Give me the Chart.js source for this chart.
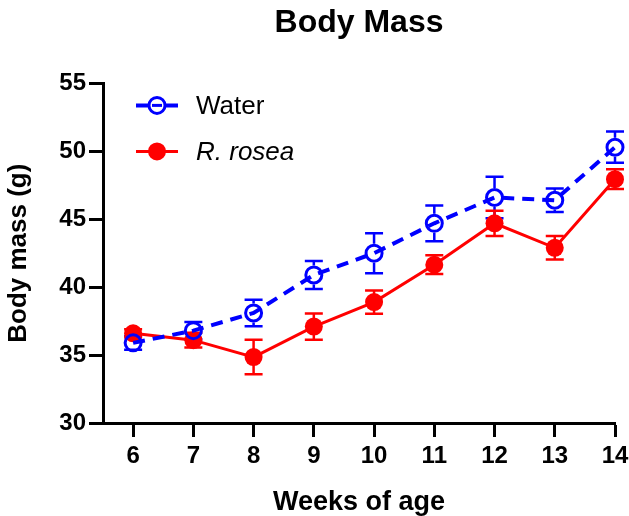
<!DOCTYPE html>
<html>
<head>
<meta charset="utf-8">
<script src="https://cdn.jsdelivr.net/npm/chart.js@4.4.0/dist/chart.umd.min.js"></script>
<style>
  body { margin: 0; background: #fff; }
  #wrap { width: 629px; height: 516px; }
</style>
</head>
<body>
<div id="wrap"><canvas id="mainChart" width="629" height="516"></canvas></div>
<script>
// --- data ---
const weeks = [6, 7, 8, 9, 10, 11, 12, 13, 14];
const waterMass = [35.9, 36.8, 38.1, 40.9, 42.5, 44.7, 46.6, 46.4, 50.3];
const waterErr = [0.5, 0.63, 0.97, 1.03, 1.47, 1.32, 1.52, 0.86, 1.15];
const roseaMass = [36.6, 36.1, 34.85, 37.1, 38.9, 41.65, 44.7, 42.9, 47.95];
const roseaErr = [0.3, 0.55, 1.27, 0.97, 0.85, 0.69, 0.93, 0.86, 0.73];
const yTicks = [30, 35, 40, 45, 50, 55];

const BLUE = '#0000ff';
const RED = '#ff0000';
const FONT = '"Liberation Sans", Arial, sans-serif';

// error bars, drawn under the markers
const errorBars = {
    id: 'errorBars',
    beforeDatasetsDraw(chart) {
        const ctx = chart.ctx;
        const xs = chart.scales.x, ys = chart.scales.y;
        chart.data.datasets.forEach((ds, di) => {
            const errs = ds.errors;
            ctx.save();
            ctx.strokeStyle = ds.borderColor;
            ctx.lineWidth = 2.5;
            ds.data.forEach((p, i) => {
                const x = xs.getPixelForValue(p.x);
                const yc = ys.getPixelForValue(p.y);
                const yt = ys.getPixelForValue(p.y + errs[i]);
                const yb = ys.getPixelForValue(p.y - errs[i]);
                const gap = ds.errGap;
                ctx.beginPath();
                if (yc - gap > yt) { ctx.moveTo(x, yc - gap); ctx.lineTo(x, yt); }
                if (yc + gap < yb) { ctx.moveTo(x, yc + gap); ctx.lineTo(x, yb); }
                ctx.moveTo(x - 9, yt); ctx.lineTo(x + 9, yt);
                ctx.moveTo(x - 9, yb); ctx.lineTo(x + 9, yb);
                ctx.stroke();
            });
            ctx.restore();
        });
    }
};

// legend inside the plot, top left
const plotLegend = {
    id: 'plotLegend',
    afterDraw(chart) {
        const ctx = chart.ctx;
        const a = chart.chartArea;
        const lx = a.left + 33, mx = a.left + 54, rx = a.left + 75, tx = a.left + 93;
        const y1 = a.top + 22, y2 = a.top + 68;
        ctx.save();
        // Water
        ctx.strokeStyle = BLUE;
        ctx.lineWidth = 4;
        ctx.beginPath();
        ctx.moveTo(lx, y1); ctx.lineTo(mx - 9, y1);
        ctx.moveTo(mx + 9, y1); ctx.lineTo(rx, y1);
        ctx.stroke();
        ctx.lineWidth = 3;
        ctx.beginPath();
        ctx.arc(mx, y1, 8, 0, Math.PI * 2);
        ctx.stroke();
        ctx.beginPath();
        ctx.moveTo(mx - 5, y1); ctx.lineTo(mx + 5, y1);
        ctx.stroke();
        // R. rosea
        ctx.strokeStyle = RED;
        ctx.fillStyle = RED;
        ctx.lineWidth = 3;
        ctx.beginPath();
        ctx.moveTo(lx, y2); ctx.lineTo(rx, y2);
        ctx.stroke();
        ctx.beginPath();
        ctx.arc(mx, y2, 9, 0, Math.PI * 2);
        ctx.fill();
        // labels
        ctx.fillStyle = '#000';
        ctx.textBaseline = 'middle';
        ctx.textAlign = 'left';
        ctx.font = '26px ' + FONT;
        ctx.fillText('Water', tx, y1 + 1);
        ctx.font = 'italic 26px ' + FONT;
        ctx.fillText('R. rosea', tx, y2 + 1);
        ctx.restore();
    }
};

const ctx = document.getElementById('mainChart').getContext('2d');
new Chart(ctx, {
    type: 'line',
    data: {
        datasets: [{
            label: 'Water',
            data: weeks.map((w, i) => ({ x: w, y: waterMass[i] })),
            errors: waterErr,
            errGap: 9.5,
            borderColor: BLUE,
            borderWidth: 4,
            borderDash: [12, 8],
            pointRadius: 8,
            pointBorderWidth: 3,
            pointBorderColor: BLUE,
            pointBackgroundColor: 'rgba(0,0,0,0)',
            tension: 0,
            clip: false
        }, {
            label: 'R. rosea',
            data: weeks.map((w, i) => ({ x: w, y: roseaMass[i] })),
            errors: roseaErr,
            errGap: 0,
            borderColor: RED,
            borderWidth: 3,
            pointRadius: 9,
            pointBorderWidth: 0,
            pointBackgroundColor: RED,
            tension: 0,
            clip: false
        }]
    },
    options: {
        responsive: false,
        animation: false,
        events: [],
        layout: { padding: { left: 0, right: 14, top: 0, bottom: 0 } },
        scales: {
            x: {
                type: 'linear',
                min: 5.5,
                max: 14,
                afterBuildTicks: s => { s.ticks = weeks.map(v => ({ value: v })); },
                afterFit: s => { s.height = 93; s.paddingLeft = 0; s.paddingRight = 0; },
                grid: { drawOnChartArea: false, drawTicks: true, tickLength: 14, tickWidth: 3, tickColor: '#000' },
                border: { display: true, color: '#000', width: 3 },
                ticks: { color: '#000', padding: 5, maxRotation: 0, font: { family: FONT, size: 24, weight: 'bold' } },
                title: {
                    display: true, text: 'Weeks of age', color: '#000',
                    font: { family: FONT, size: 27, weight: 'bold', lineHeight: 1.0 },
                    padding: { top: 0, bottom: 0 }
                }
            },
            y: {
                min: 30,
                max: 55,
                afterBuildTicks: s => { s.ticks = yTicks.map(v => ({ value: v })); },
                afterFit: s => { s.width = 103; },
                grid: { drawOnChartArea: false, drawTicks: true, tickLength: 14, tickWidth: 3, tickColor: '#000' },
                border: { display: true, color: '#000', width: 3 },
                ticks: { color: '#000', padding: 3, font: { family: FONT, size: 24, weight: 'bold' } },
                title: {
                    display: true, text: 'Body mass (g)', color: '#000',
                    font: { family: FONT, size: 26, weight: 'bold', lineHeight: 1.2 },
                    padding: { top: 3, bottom: 0 }
                }
            }
        },
        plugins: {
            legend: { display: false },
            tooltip: { enabled: false },
            title: {
                display: true,
                text: 'Body Mass',
                fullSize: false,
                color: '#000',
                font: { family: FONT, size: 32, weight: 'bold', lineHeight: 1.2 },
                padding: { top: 4, bottom: 41 }
            }
        }
    },
    plugins: [errorBars, plotLegend]
});
</script>
</body>
</html>
